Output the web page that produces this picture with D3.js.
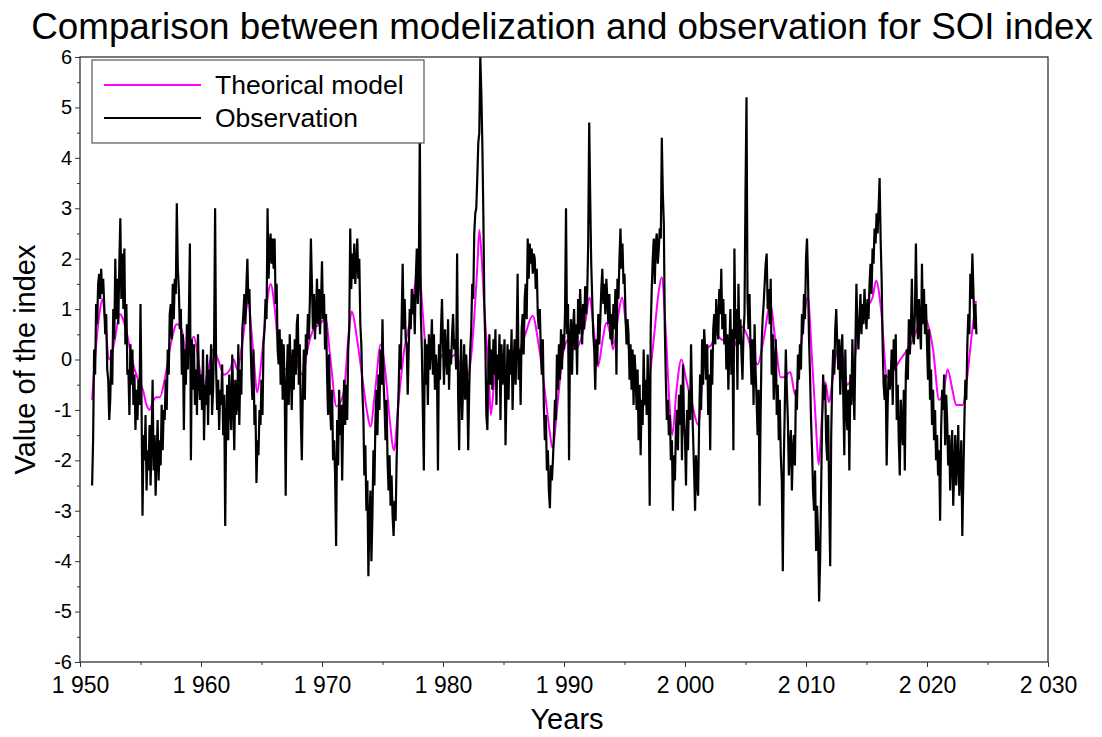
<!DOCTYPE html>
<html>
<head>
<meta charset="utf-8">
<script src="https://cdn.jsdelivr.net/npm/d3@7"></script>
<style>
  body { margin: 0; background: #fff; }
  svg { display: block; font-family: "Liberation Sans", Arial, sans-serif; }
</style>
</head>
<body>
<div id="chart"></div>
<script>
// Monthly observed SOI values, starting January 1951 (one row per year)
const obsStartYear = 1951;
const observation = [
  -2.5, -1.6, 0.2, -0.3, 1.1, 0.7, 1.5, 1.7, 1.2, 1.8, 1.3, 1.6,
  1.1, 0.5, 0.9, -0.2, -0.4, -1.2, -0.8, 0.2, -0.5, 1.0, 0.4, 2.0,
  0.8, 1.6, 0.7, 1.9, 2.8, 1.2, 2.1, 1.0, 2.2, 0.3, 1.1, -0.3,
  -0.2, -1.1, 0.3, -0.5, 0.2, -0.9, -0.3, -1.4, -0.6, -1.2, -0.4, -0.9,
  1.1, -0.8, -3.1, -1.5, -2.0, -1.1, -2.6, -1.8, -2.2, -1.3, -2.5, -1.6,
  -0.4, -2.2, -1.5, -2.7, -1.9, -1.2, -2.4, -1.6, -2.1, -0.9, -1.8, -1.0,
  -1.2, -0.4, -1.0, 0.2, -0.3, 0.9, 1.1, 0.4, 1.5, 0.8, 1.6, 1.3,
  3.1, 1.8, 1.4, 0.6, 1.0, -0.3, 0.5, -1.4, 0.2, -0.5, 0.7, -0.2,
  0.9, 2.3, -2.0, 0.4, -0.6, 0.3, -0.9, -0.2, -1.1, 0.5, -0.4, -0.8,
  -0.3, -1.0, 0.2, -1.6, -0.5, -0.9, 0.1, -1.3, -0.2, -0.7, 0.3, -1.1,
  -0.6, 0.4, 3.0, -0.2, -1.0, -0.4, -1.4, -0.6, -0.9, -0.1, -1.5, -0.7,
  -3.3, -1.2, -0.5, -1.6, -0.3, -0.9, -1.4, 0.1, -0.8, -1.8, -0.4, -1.1,
  -0.9, 0.3, -1.3, -0.2, -0.7, 0.6, 0.9, 1.3, 0.7, 1.45, 2.0, 1.1,
  1.4, 0.5, -0.3, -0.8, 0.2, -1.3, -0.9, -2.45, -1.6, -1.9, -1.0, -1.3,
  -0.4, -1.1, 0.3, 0.6, 1.2, 0.8, 3.0, 1.6, 2.2, 2.5, 1.9, 2.4,
  1.8, 2.4, 1.1, 1.5, 0.2, -0.1, 0.6, -0.5, 0.4, -0.8, 0.3, -0.6,
  -2.7, -0.4, 0.3, -0.9, 0.5, -0.2, -1.0, 0.2, -0.6, 0.4, -0.3, 0.7,
  0.9, -0.5, 0.3, -1.2, -2.0, -0.6, 0.2, -0.8, 0.5, 0.1, 0.9, 0.4,
  1.2, 2.4, 1.5, 0.6, 1.3, 0.4, 0.9, 1.6, 0.7, 1.4, 0.5, 1.1,
  1.95, 0.8, 1.3, 0.2, 0.9, -0.3, -1.1, 0.1, -0.9, -1.4, -0.6, -2.0,
  -1.6, -2.3, -3.7, -1.2, -2.1, -0.6, -1.5, -0.9, -2.4, -1.1, -0.4, -1.3,
  -0.5, -1.2, 0.2, 0.6, 2.6, 1.4, 2.1, 1.6, 2.3, 1.5, 1.9, 2.4,
  1.6, 2.0, 0.7, 0.3, -0.6, -1.1, -2.3, -1.7, -3.0, -2.4, -4.3, -3.2,
  -2.6, -4.0, -3.1, -1.8, -2.5, -1.2, -0.6, -1.5, -0.3, -1.0, 0.2, -0.5,
  0.8, -0.4, -0.9, -1.6, -0.8, -2.0, -2.6, -1.9, -2.9, -2.3, -3.1, -3.5,
  -2.8, -3.2, -2.0, -1.2, -0.6, 0.3, -0.2, 0.8, 1.9, 0.6, 1.2, 0.4,
  0.3, -0.7, 0.2, 1.0, 0.6, 1.4, 0.9, 1.3, 0.5, 1.6, 2.2, 1.1,
  1.6, 4.6, 0.9, 0.2, -1.0, -2.2, 0.4, -0.5, 0.3, -0.9, 0.5, -0.2,
  0.2, 0.8, -0.3, 0.5, -0.6, 0.1, -0.2, -2.2, 0.3, -0.4, 0.6, 1.2,
  0.3, -0.5, 0.6, 0.1, -0.3, 0.8, -0.6, 0.2, -0.1, 0.5, 0.9, 0.2,
  0.4, -0.2, 2.1, -0.7, -1.8, -0.3, 0.4, -1.2, -0.5, 0.3, -0.8, 0.1,
  -0.4, -1.8, -0.6, 0.2, 0.6, 1.5, 1.2, 2.5, 2.9, 3.0, 3.6, 4.3,
  4.5, 6.0, 5.3, 4.3, 2.9, 1.1, 0.3, -1.1, -1.4, -0.2, 0.5, -0.5,
  0.2, -0.6, 0.4, -0.3, 0.6, -0.9, 0.1, -0.4, 0.5, -1.2, 0.3, -0.5,
  -0.2, 0.4, -1.7, -0.6, 0.3, -0.8, 0.2, -0.3, 0.6, -1.0, -0.1, 0.4,
  -0.5, 0.3, 1.7, -0.4, 0.2, -0.9, 0.6, 0.9, 0.1, 1.2, 1.5, 0.8,
  2.4, 1.6, 2.3, 1.9, 2.2, 1.7, 2.1, 2.0, 1.4, 1.8, 0.9, 0.6,
  1.0, 0.2, -0.3, 0.4, -0.9, -1.6, -1.1, -2.2, -1.8, -2.6, -2.95, -2.1,
  -2.4, -2.0, -1.5, -0.8, -1.2, 0.1, -0.6, 0.3, -0.4, 0.6, -0.2, 0.5,
  0.2, 0.9, 3.0, 0.5, 1.1, -2.0, 0.4, 0.8, -0.3, 0.6, 1.0, 0.2,
  0.7, -0.3, 1.2, 0.5, 1.4, 0.8, 0.3, 1.1, 0.6, 1.45, 0.9, 1.3,
  2.3, 4.7, 3.2, 1.9, 1.2, 0.5, 0.2, -0.6, 0.4, -0.1, 0.9, 0.3,
  0.8, 1.4, 1.8, 1.1, 1.5, 0.9, 1.6, 1.2, 0.7, 1.3, 0.4, 0.9,
  0.3, 1.1, 0.6, 1.4, -0.3, 1.6, 1.2, 2.0, 2.6, 1.8, 2.3, 1.5,
  1.7, 0.9, 0.3, 0.8, 0.5, -0.4, 0.3, -0.6, 0.2, -0.9, 0.1, -0.3,
  -1.0, -0.2, -1.6, -0.5, -1.9, -0.8, -1.3, 0.2, -0.9, -0.4, -1.1, 0.1,
  -0.8, -2.9, 0.6, 1.4, 2.0, 2.4, 1.5, 2.3, 2.5, 1.9, 2.2, 2.6,
  2.4, 4.4, 3.3, 2.7, 0.6, -0.4, -1.2, -0.8, -1.5, -1.1, -2.0, -1.6,
  -3.0, -1.9, -2.4, -1.4, -1.0, -1.8, -0.7, -1.3, -0.5, -2.0, -0.1, -1.2,
  -1.6, -2.5, -1.0, -1.8, -0.6, -1.2, 0.3, -0.8, -1.5, -2.2, -3.0, -1.9,
  -2.4, -2.7, -1.3, -0.3, -1.0, 0.4, -0.5, 0.6, 0.2, -0.4, 0.3, -1.1,
  -0.3, -1.8, 0.2, -0.5, 0.6, 0.9, 0.3, 1.2, 0.7, 0.4, 1.4, 0.9,
  1.8, 0.6, 1.2, 0.3, 0.9, -0.2, 0.5, -0.6, 0.2, 1.0, -0.3, 0.6,
  -1.8, 2.2, 0.4, 1.0, -0.6, 1.5, 0.3, 0.8, 0.1, -0.4, 0.5, 0.9,
  3.3, 5.2, 1.2, 0.6, 1.3, 0.2, -0.5, 0.4, -0.9, 0.7, -0.2, -0.8,
  -1.5, -0.6, -2.9, -1.1, 0.3, 0.8, 1.1, 1.5, 1.9, 2.1, 1.0, 1.4,
  0.7, 1.6, -0.3, 0.5, -0.8, -0.2, 0.4, -1.1, -0.5, -1.6, -0.8, -1.9,
  -2.4, -4.2, -2.0, -0.9, 0.2, -0.6, -1.2, -2.3, -1.7, -1.4, -2.6, -1.8,
  -1.5, -2.1, -0.6, -1.0, 0.1, -0.4, 0.3, -0.2, 0.9, 0.5, 1.3, 0.8,
  2.0, 2.4, 1.6, 0.4, -0.3, -1.2, -1.8, -2.6, -3.0, -2.2, -3.8, -2.9,
  -3.5, -4.8, -4.0, -2.6, -1.2, -0.3, -0.8, -0.5, -1.6, -2.0, -1.1, -2.8,
  -4.1, -1.5, -0.4, 0.2, -0.3, 0.6, 1.0, 0.3, -0.2, 0.4, -0.7, 0.1,
  0.5, -0.8, -1.9, 0.2, -1.0, -1.4, -0.6, -2.2, -0.3, -0.9, 0.4, -0.5,
  -1.2, 0.3, 1.5, 0.6, 0.2, 0.8, 1.3, 0.5, 1.1, 0.7, 1.4, 0.9,
  0.6, 1.2, 0.8, 1.5, 1.9, 1.3, 2.2, 1.9, 2.6, 2.3, 2.9, 2.5,
  3.0, 3.6, 2.4, 1.6, 0.3, -0.5, -0.8, -0.3, -2.1, -0.9, -0.2, -0.6,
  -0.4, 0.2, -0.9, 0.4, -0.2, 0.5, -1.2, -0.5, -1.6, -2.3, -0.8, -1.3,
  -1.7, -0.6, -2.2, -0.3, 0.2, -0.4, 0.8, 0.1, 0.6, 1.6, 0.5, 0.3,
  0.9, 2.3, 1.0, 0.4, 1.2, 0.6, 0.2, 1.9, 0.7, 1.4, 0.5, 1.1,
  0.3, -0.4, 0.6, -0.8, -0.2, -1.3, -0.6, -1.6, -1.0, -2.0, -1.5, -2.3,
  -1.8, -3.2, -1.4, -0.6, -1.0, -0.3, -1.7, -0.7, -1.2, -2.1, -1.5, -2.6,
  -1.9, -1.4, -2.9, -2.2, -1.5, -2.5, -2.0, -1.3, -2.7, -2.2, -1.6, -3.5,
  -2.4, -1.3, -0.4, -0.8, 0.3, 0.9, 0.5, 1.7, 1.2, 2.1, 1.4, 0.6,
  1.1, 0.5
];

// Theoretical model: smooth curve given at knot dates (decimal years)
const modelYears = [
  1951.0, 1951.3, 1951.6, 1951.85, 1952.1, 1952.4, 1952.8, 1953.3, 1953.8, 1954.3,
  1954.8, 1955.2, 1955.5, 1955.76, 1956.0, 1956.3, 1956.6, 1957.0, 1957.5, 1958.0,
  1958.4, 1958.8, 1959.4, 1959.9, 1960.2, 1960.6, 1961.0, 1961.4, 1961.9, 1962.4,
  1962.7, 1963.0, 1963.4, 1963.9, 1964.3, 1964.65, 1965.0, 1965.4, 1965.75, 1966.1,
  1966.4, 1966.8, 1967.3, 1967.66, 1968.1, 1968.4, 1968.8, 1969.3, 1969.8, 1970.3,
  1970.7, 1971.2, 1971.8, 1972.2, 1972.45, 1972.9, 1973.3, 1973.7, 1974.0, 1974.4,
  1974.85, 1975.3, 1975.6, 1975.95, 1976.3, 1976.8, 1977.3, 1977.7, 1978.0, 1978.3,
  1978.6, 1979.0, 1979.5, 1980.0, 1980.5, 1981.0, 1981.4, 1982.0, 1982.3, 1982.6,
  1982.85, 1983.0, 1983.2, 1983.4, 1983.8, 1983.95, 1984.3, 1984.8, 1985.2, 1985.7,
  1986.2, 1986.8, 1987.4, 1987.9, 1988.4, 1988.8, 1989.05, 1989.5, 1989.9, 1990.4,
  1990.9, 1991.4, 1991.8, 1992.1, 1992.5, 1992.8, 1993.2, 1993.5, 1993.9, 1994.05,
  1994.5, 1994.8, 1995.2, 1995.6, 1996.0, 1996.4, 1996.8, 1997.1, 1997.5, 1997.8,
  1998.07, 1998.4, 1998.7, 1998.95, 1999.3, 1999.7, 2000.1, 2000.6, 2001.1, 2001.5,
  2001.8, 2002.2, 2002.6, 2003.0, 2003.6, 2003.9, 2004.3, 2004.7, 2005.1, 2005.5,
  2006.0, 2006.5, 2007.05, 2007.5, 2007.9, 2008.15, 2008.7, 2009.1, 2009.6, 2010.15,
  2010.5, 2010.8, 2011.05, 2011.3, 2011.6, 2011.9, 2012.2, 2012.6, 2013.0, 2013.4,
  2013.9, 2014.3, 2014.8, 2015.5, 2015.8, 2016.2, 2016.7, 2017.8, 2018.8, 2019.7,
  2020.5, 2021.0, 2021.4, 2021.7, 2022.1, 2022.4, 2022.95, 2023.3, 2023.7, 2024.05
];
const modelValues = [
  -0.8, 0.2, 0.9, 1.2, 0.7, 0.0, 0.3, 0.9, 0.6, 0.0,
  -0.4, -0.6, -0.9, -1.0, -0.85, -0.75, -0.75, -0.4, 0.3, 0.7,
  0.6, 0.1, 0.45, -0.2, -0.55, -0.2, 0.2, 0.0, -0.3, -0.2,
  0.0, -0.2, 0.3, 1.1, 0.2, -0.65, 0.0, 1.0, 1.5, 1.0,
  0.2, -0.2, -0.1, 0.15, -0.2, -0.3, 0.2, 0.6, 0.7, 0.8,
  0.0, -0.93, -0.65, 0.5, 0.95, 0.4, -0.3, -1.0, -1.33, -0.6,
  0.3, -0.4, -1.2, -1.8, -0.9, 0.2, 0.8, 1.5, 1.9, 1.0,
  0.2, 0.05, -0.1, 0.1, 0.0, 0.1, -0.1, -0.35, 0.0, 0.9,
  1.9, 2.57, 2.0, 1.1, -0.4, -1.1, -0.3, -0.1, -0.4, -0.1,
  0.1, 0.5, 0.87, 0.3, -0.6, -1.4, -1.75, -0.8, 0.1, 0.4,
  0.2, 0.4, 0.8, 1.23, 0.5, -0.14, 0.4, 0.73, 0.4, 0.2,
  0.9, 1.23, 0.5, -0.2, -0.6, -1.0, -0.7, -0.3, 0.6, 1.3,
  1.63, 0.6, -0.8, -1.5, -0.6, 0.0, -0.4, -0.9, -1.3, -0.2,
  0.2, 0.3, 0.5, 0.4, 0.35, 0.2, 0.4, 0.65, 0.5, 0.2,
  -0.1, 0.4, 1.09, 0.3, -0.35, -0.35, -0.25, -0.7, 0.3, 1.23,
  0.0, -1.2, -2.09, -1.2, -0.45, -0.85, -0.4, 0.2, 0.1, -0.5,
  -0.2, 0.5, 0.95, 1.23, 1.56, 1.0, -0.35, 0.0, 0.37, 0.87,
  0.2, -0.8, -0.6, -0.2, -0.6, -0.9, -0.9, -0.4, 0.5, 1.16
];

// Axis ticks and labels
const xMajorTicks = [1950, 1960, 1970, 1980, 1990, 2000, 2010, 2020, 2030];
const xMinorTicks = [1955, 1965, 1975, 1985, 1995, 2005, 2015, 2025];
const yMajorTicks = [-6, -5, -4, -3, -2, -1, 0, 1, 2, 3, 4, 5, 6];
const yMinorTicks = [-5.5, -4.5, -3.5, -2.5, -1.5, -0.5, 0.5, 1.5, 2.5, 3.5, 4.5, 5.5];

const chartTitle = "Comparison between modelization and observation for SOI index";
const xTitle = "Years";
const yTitle = "Value of the index";
const legendLabels = ["Theorical model", "Observation"];
const seriesColors = ["#ff00ff", "#000000"];

const W = 1102, H = 737;
const plot = { left: 80, right: 1048, top: 57, bottom: 662 };

const svg = d3.select("#chart").append("svg")
  .attr("width", W).attr("height", H);

const x = d3.scaleLinear().domain([1950, 2030]).range([plot.left, plot.right]);
const y = d3.scaleLinear().domain([-6, 6]).range([plot.bottom, plot.top]);

const locale = d3.formatLocale({ decimal: ".", thousands: " ", grouping: [3], currency: ["", ""], minus: "-" });
const fmtYear = locale.format(",");
const fmtInt = locale.format("d");

// Title
svg.append("text")
  .attr("x", 562).attr("y", 39)
  .attr("text-anchor", "middle")
  .attr("font-size", 36.8)
  .attr("fill", "#000")
  .text(chartTitle);

// Data lines, clipped to the plotting frame
svg.append("clipPath").attr("id", "plotClip")
  .append("rect")
  .attr("x", plot.left).attr("y", plot.top)
  .attr("width", plot.right - plot.left).attr("height", plot.bottom - plot.top);

const g = svg.append("g").attr("clip-path", "url(#plotClip)");

const obsPoints = observation.map((v, i) => [obsStartYear + i / 12, v]);
const modelPoints = modelYears.map((t, i) => [t, modelValues[i]]);

g.append("path")
  .datum(modelPoints)
  .attr("fill", "none")
  .attr("stroke", seriesColors[0])
  .attr("stroke-width", 2)
  .attr("d", d3.line().x(d => x(d[0])).y(d => y(d[1])).curve(d3.curveMonotoneX));

g.append("path")
  .datum(obsPoints)
  .attr("fill", "none")
  .attr("stroke", seriesColors[1])
  .attr("stroke-width", 2.2)
  .attr("stroke-linejoin", "miter")
  .attr("d", d3.line().x(d => x(d[0])).y(d => y(d[1])));

// Frame
svg.append("rect")
  .attr("x", plot.left).attr("y", plot.top)
  .attr("width", plot.right - plot.left).attr("height", plot.bottom - plot.top)
  .attr("fill", "none").attr("stroke", "#333").attr("stroke-width", 1.3);

// Bottom axis
const xAxis = d3.axisBottom(x).tickValues(xMajorTicks).tickSize(5).tickPadding(10).tickFormat(fmtYear);
const gx = svg.append("g").attr("transform", `translate(0,${plot.bottom})`).call(xAxis);
gx.select(".domain").remove();
gx.selectAll("line").attr("stroke", "#333");
gx.selectAll("text").attr("font-size", 23).attr("fill", "#000").attr("font-family", "Liberation Sans, Arial, sans-serif");
const gxm = svg.append("g").attr("transform", `translate(0,${plot.bottom})`)
  .call(d3.axisBottom(x).tickValues(xMinorTicks).tickSize(3).tickFormat(""));
gxm.select(".domain").remove();
gxm.selectAll("line").attr("stroke", "#333");

// Left axis
const yAxis = d3.axisLeft(y).tickValues(yMajorTicks).tickSize(5).tickPadding(3).tickFormat(fmtInt);
const gy = svg.append("g").attr("transform", `translate(${plot.left},0)`).call(yAxis);
gy.select(".domain").remove();
gy.selectAll("line").attr("stroke", "#333");
gy.selectAll("text").attr("font-size", 20).attr("fill", "#000").attr("font-family", "Liberation Sans, Arial, sans-serif");
const gym = svg.append("g").attr("transform", `translate(${plot.left},0)`)
  .call(d3.axisLeft(y).tickValues(yMinorTicks).tickSize(3).tickFormat(""));
gym.select(".domain").remove();
gym.selectAll("line").attr("stroke", "#333");

// Axis titles
svg.append("text")
  .attr("x", (plot.left + plot.right) / 2 + 3).attr("y", 729)
  .attr("text-anchor", "middle").attr("font-size", 29).attr("fill", "#000")
  .text(xTitle);

svg.append("text")
  .attr("transform", `translate(35,${(plot.top + plot.bottom) / 2}) rotate(-90)`)
  .attr("text-anchor", "middle").attr("font-size", 29).attr("fill", "#000")
  .text(yTitle);

// Legend
const legend = svg.append("g");
legend.append("rect")
  .attr("x", 92).attr("y", 60).attr("width", 332).attr("height", 83)
  .attr("fill", "#fff").attr("stroke", "#555").attr("stroke-width", 1.2);
legendLabels.forEach((label, i) => {
  const ly = 85 + i * 33;
  legend.append("line")
    .attr("x1", 104).attr("x2", 201).attr("y1", ly).attr("y2", ly)
    .attr("stroke", seriesColors[i]).attr("stroke-width", 2);
  legend.append("text")
    .attr("x", 215).attr("y", ly + 9)
    .attr("font-size", 26.5).attr("fill", "#000")
    .text(label);
});
</script>
</body>
</html>
